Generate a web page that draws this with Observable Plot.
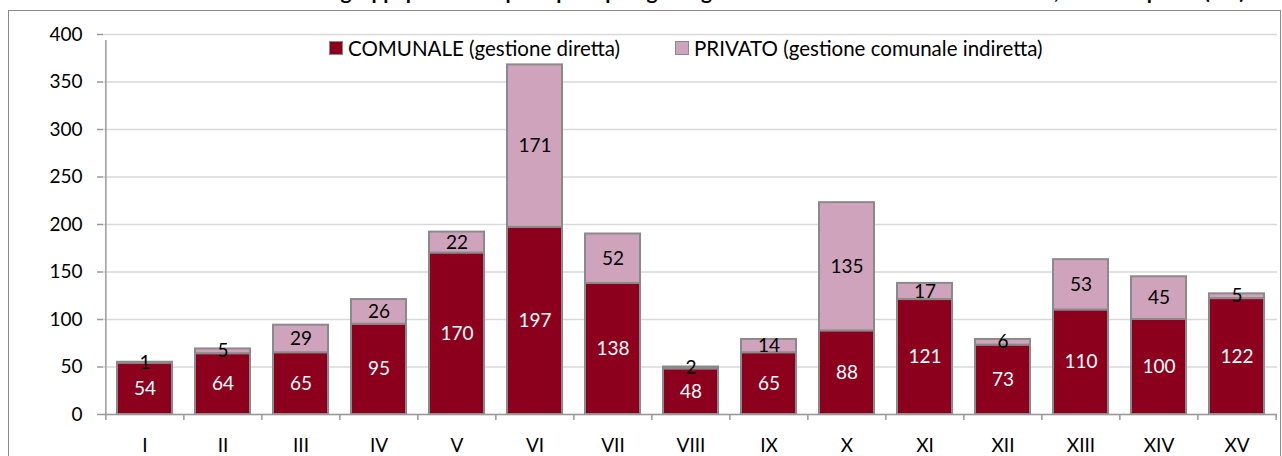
<!DOCTYPE html>
<html>
<head>
<meta charset="utf-8">
<script src="https://cdn.jsdelivr.net/npm/d3@7"></script>
<script src="https://cdn.jsdelivr.net/npm/@observablehq/plot@0.6"></script>
<style>
  html, body { margin: 0; padding: 0; background: #fff; overflow: hidden; }
  body { width: 1282px; height: 456px; position: relative; font-family: Lato, "Open Sans", sans-serif; }
  #title { position: absolute; left: 10px; top: -22px; line-height: 25px; white-space: nowrap; font: bold 21px Lato, sans-serif; color: #000; }
  #frame { position: absolute; left: 8px; top: 10px; width: 1273px; height: 470px; border: 1px solid #8a8a8a; box-sizing: border-box; }
  #chart { position: absolute; left: 0; top: 0; }
  #legend { position: absolute; top: 36px; left: 329px; display: flex; align-items: center; font-size: 20.5px; color: #000; white-space: nowrap; }
  .sw { display: inline-block; width: 12px; height: 12px; border: 1px solid #8a8a8a; margin-right: 5px; }
  .item { display: flex; align-items: center; margin-right: 55px; }
</style>
</head>
<body>
<div id="title">Grafico 6 – Centri estivi: numero di gruppi per Municipio e per tipologia di gestione. Estate 2017 – valori assoluti, Roma Capitale (a.s.) anno</div>
<div id="frame"></div>
<div id="chart"></div>
<div id="legend"></div>
<script>
const municipi = ["I","II","III","IV","V","VI","VII","VIII","IX","X","XI","XII","XIII","XIV","XV"];
const comunale = [54,64,65,95,170,197,138,48,65,88,121,73,110,100,122];
const privato  = [1,5,29,26,22,171,52,2,14,135,17,6,53,45,5];
const serie = ["COMUNALE (gestione diretta)", "PRIVATO (gestione comunale indiretta)"];
const colori = ["#8c001e", "#cfa3bb"];
const coloriTesto = ["#ffffff", "#000000"];
const yTicks = [0,50,100,150,200,250,300,350,400];

const data = [];
municipi.forEach((m, i) => {
  data.push({m, tipo: serie[0], v: comunale[i]});
  data.push({m, tipo: serie[1], v: privato[i]});
});

const W = 1282, H = 456;
const mL = 103, mR = 5, mT = 34, mB = 42;
const step = (W - mL - mR) / municipi.length;

const chart = Plot.plot({
  width: W, height: H,
  marginLeft: mL, marginRight: mR, marginTop: mT, marginBottom: mB,
  style: {fontFamily: "Lato, sans-serif", fontSize: "19px", color: "#000", background: "transparent"},
  x: {domain: municipi, paddingInner: 0.3, paddingOuter: 0.15, label: null},
  y: {domain: [0, 400], label: null},
  color: {domain: serie, range: colori},
  marks: [
    Plot.gridY(yTicks, {stroke: "#d9d9d9", strokeOpacity: 1, strokeWidth: 1.3}),
    Plot.barY(data, {x: "m", y: "v", fill: "tipo", stroke: "#8a8a8a", strokeWidth: 2, order: serie}),
    Plot.text(data, Plot.stackY({x: "m", y: "v", z: "tipo", order: serie, text: d => String(d.v),
      fill: d => coloriTesto[serie.indexOf(d.tipo)], fontSize: 19})),
    Plot.ruleY([0], {stroke: "#9a9a9a", strokeWidth: 1.5}),
    Plot.ruleX(municipi, {x: d => d, y1: 0, y2: 0, insetBottom: -6, dx: -step / 2, stroke: "#9a9a9a", strokeWidth: 1.5}),
    Plot.ruleX(municipi.slice(-1), {x: d => d, y1: 0, y2: 0, insetBottom: -6, dx: step / 2, stroke: "#9a9a9a", strokeWidth: 1.5}),
    Plot.ruleX(municipi.slice(0, 1), {x: d => d, y1: 0, y2: 400, insetBottom: -6, dx: -step / 2, stroke: "#9a9a9a", strokeWidth: 1.5}),
    Plot.axisY(yTicks, {tickSize: 6, tickPadding: 15, stroke: "#9a9a9a", strokeWidth: 1.5, fill: "#000", fontSize: 19}),
    Plot.axisX({tickSize: 0, tickPadding: 24, fill: "#000", fontSize: 19})
  ]
});
document.getElementById("chart").appendChild(chart);

const leg = document.getElementById("legend");
serie.forEach((s, i) => {
  const it = document.createElement("div");
  it.className = "item";
  const sw = document.createElement("span");
  sw.className = "sw";
  sw.style.background = colori[i];
  it.appendChild(sw);
  it.appendChild(document.createTextNode(s));
  leg.appendChild(it);
});
</script>
</body>
</html>
